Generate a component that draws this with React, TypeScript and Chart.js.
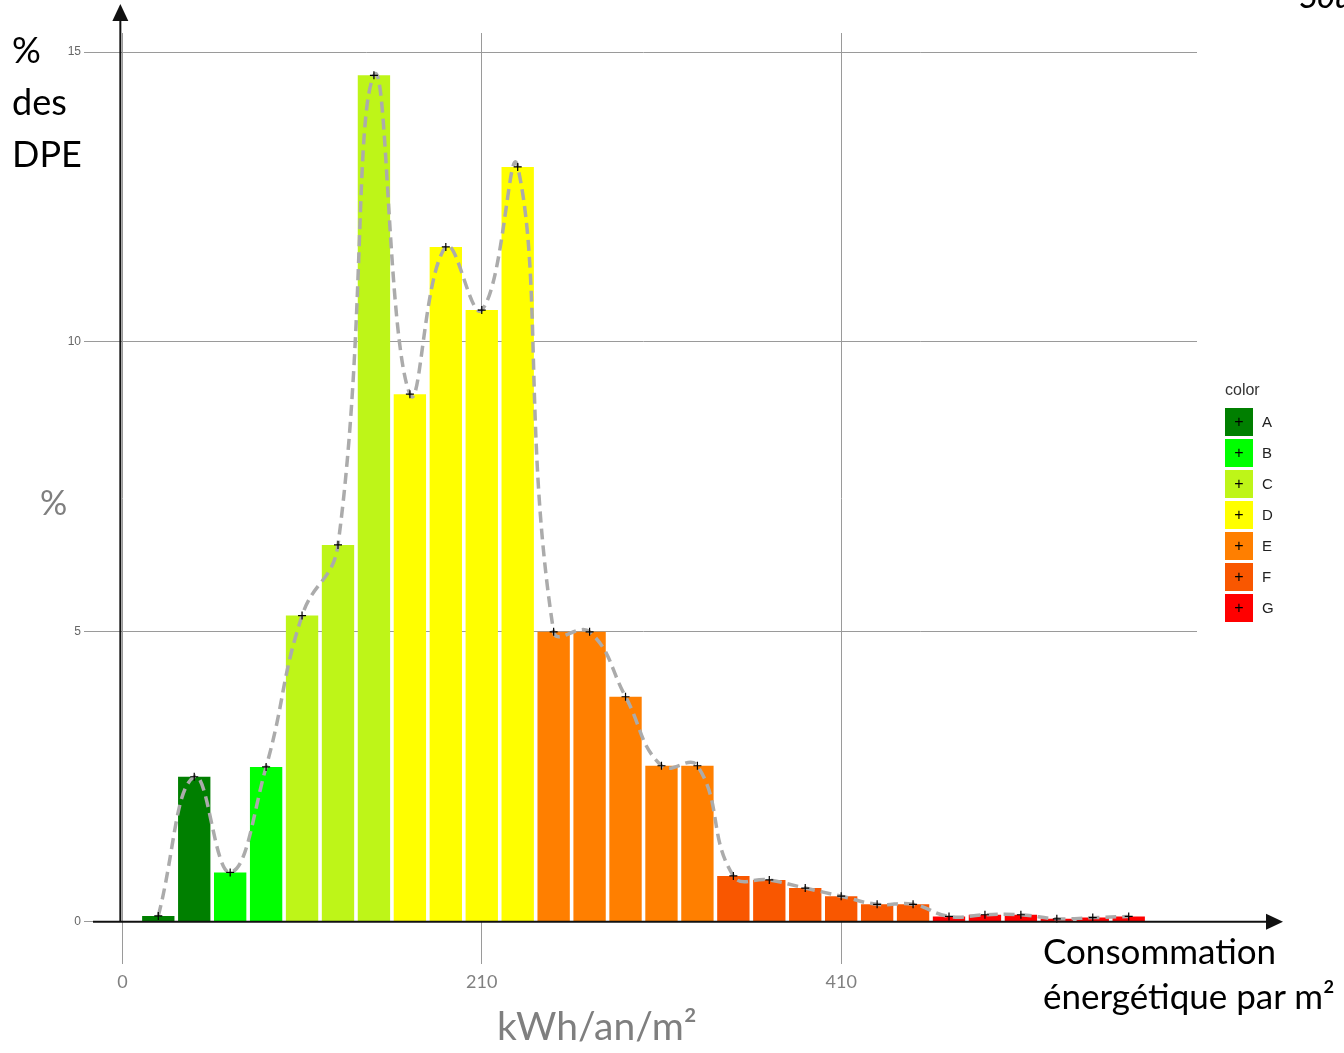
import React, { useEffect, useRef } from "react";
import { Chart, registerables } from "chart.js";

Chart.register(...registerables);

// ---- data ----
const consumption = [30, 50, 70, 90, 110, 130, 150, 170, 190, 210, 230, 250, 270, 290, 310, 330, 350, 370, 390, 410, 430, 450, 470, 490, 510, 530, 550, 570];
const percent = [0.1, 2.5, 0.85, 2.67, 5.28, 6.5, 14.6, 9.1, 11.64, 10.55, 13.02, 5.0, 5.0, 3.88, 2.69, 2.69, 0.79, 0.72, 0.58, 0.44, 0.3, 0.3, 0.09, 0.12, 0.12, 0.05, 0.07, 0.09];
const dpeClass = ["A", "A", "B", "B", "C", "C", "C", "D", "D", "D", "D", "E", "E", "E", "E", "E", "F", "F", "F", "F", "F", "F", "G", "G", "G", "G", "G", "G"];
const classNames = ["A", "B", "C", "D", "E", "F", "G"];
const classColors = ["#007F00", "#00FF00", "#BEF518", "#FFFF00", "#FF7F00", "#F95700", "#FF0000"];
const yTicks = [0, 5, 10, 15];
const xTicks = [10, 210, 410];
const xTickLabels = ["0", "210", "410"];

const colorOf = (c: string) => classColors[classNames.indexOf(c)];

export default function App() {
  const ref = useRef<HTMLCanvasElement | null>(null);

  useEffect(() => {
    document.body.style.margin = "0";
    const canvas = ref.current!;
    const points = consumption.map((x, i) => ({ x, y: percent[i] }));

    const arrowPlugin = {
      id: "arrows",
      afterDraw(chart: any) {
        const ctx = chart.ctx;
        const xs = chart.scales.x;
        const ys = chart.scales.y;
        const y0 = ys.getPixelForValue(0);
        const xa = xs.getPixelForValue(10) - 2;
        ctx.save();
        ctx.strokeStyle = "#111";
        ctx.fillStyle = "#111";
        ctx.lineWidth = 2;
        // x axis
        ctx.beginPath();
        ctx.moveTo(93, y0);
        ctx.lineTo(1268, y0);
        ctx.stroke();
        ctx.beginPath();
        ctx.moveTo(1283, y0);
        ctx.lineTo(1266, y0 - 8);
        ctx.lineTo(1266, y0 + 8);
        ctx.closePath();
        ctx.fill();
        // y axis
        ctx.beginPath();
        ctx.moveTo(xa, y0);
        ctx.lineTo(xa, 20);
        ctx.stroke();
        ctx.beginPath();
        ctx.moveTo(xa, 4);
        ctx.lineTo(xa - 8, 21);
        ctx.lineTo(xa + 8, 21);
        ctx.closePath();
        ctx.fill();
        ctx.restore();
      },
    };

    const chart = new Chart(canvas, {
      type: "bar",
      data: {
        datasets: [
          {
            type: "line",
            data: points,
            borderColor: "#ABABAB",
            borderWidth: 3.5,
            borderDash: [11, 6],
            tension: 0.45,
            fill: false,
            pointStyle: "cross",
            pointRadius: 4,
            pointBorderColor: "#000",
            pointBorderWidth: 1.2,
            pointBackgroundColor: "#000",
            order: 0,
          } as any,
          {
            type: "bar",
            data: points,
            backgroundColor: dpeClass.map(colorOf),
            borderWidth: 0,
            barPercentage: 0.9,
            categoryPercentage: 1,
            grouped: false,
            order: 1,
          } as any,
        ],
      },
      options: {
        responsive: false,
        animation: false,
        layout: { padding: { left: 0, right: 147, top: 33, bottom: 0 } },
        plugins: { legend: { display: false }, tooltip: { enabled: false } },
        scales: {
          x: {
            type: "linear",
            min: -8,
            max: 608,
            offset: false,
            afterFit: (s: any) => { s.height = 89; },
            afterBuildTicks: (s: any) => { s.ticks = xTicks.map((v) => ({ value: v })); },
            grid: { color: "#9A9A9A", lineWidth: 1, drawTicks: false, offset: false },
            border: { display: false },
            ticks: {
              padding: 7,
              color: "#808080",
              font: { family: "Lato", size: 18 },
              callback: (v: any) => xTickLabels[xTicks.indexOf(Number(v))] ?? "",
              maxRotation: 0,
            },
          },
          y: {
            type: "linear",
            min: -0.73,
            max: 15.33,
            afterFit: (s: any) => { s.width = 90; },
            afterBuildTicks: (s: any) => { s.ticks = yTicks.map((v) => ({ value: v })); },
            grid: { color: "#9A9A9A", lineWidth: 1, tickLength: 6 },
            border: { display: false },
            ticks: {
              padding: 3,
              color: "#666",
              font: { family: "Liberation Sans", size: 12 },
            },
          },
        },
      },
      plugins: [arrowPlugin],
    });
    return () => chart.destroy();
  }, []);

  const big: React.CSSProperties = { position: "absolute", fontFamily: "Lato", whiteSpace: "nowrap" };

  return (
    <div style={{ position: "fixed", left: 0, top: 0, width: 1344, height: 1053, overflow: "hidden", background: "#fff" }}>
      <canvas ref={ref} width={1344} height={1053} style={{ position: "absolute", left: 0, top: 0 }} />
      <div style={{ ...big, left: 12, top: 23, fontSize: 36, lineHeight: "52px", color: "#000" }}>
        %<br />des<br />DPE
      </div>
      <div style={{ ...big, left: 40, top: 482, fontSize: 34, lineHeight: "40px", color: "#7F7F7F" }}>%</div>
      <div style={{ ...big, left: 497, top: 1003, fontSize: 39, lineHeight: "44px", color: "#7F7F7F" }}>kWh/an/m²</div>
      <div style={{ ...big, left: 1043, top: 928, fontSize: 35, lineHeight: "45px", color: "#000" }}>
        Consommation<br />énergétique par m²
      </div>
      <div style={{ ...big, left: 1300, top: -25, fontSize: 34, lineHeight: "40px", fontStyle: "italic", color: "#000" }}>Sou</div>
      <div style={{ position: "absolute", left: 1225, top: 380, fontFamily: "Liberation Sans", fontSize: 16, lineHeight: "20px", color: "#333" }}>color</div>
      {classNames.map((c, i) => (
        <div key={c}>
          <div
            style={{
              position: "absolute",
              left: 1225,
              top: 408 + i * 31,
              width: 28,
              height: 28,
              background: classColors[i],
              color: "#000",
              fontFamily: "Liberation Sans",
              fontSize: 16,
              lineHeight: "28px",
              textAlign: "center",
            }}
          >
            +
          </div>
          <div
            style={{
              position: "absolute",
              left: 1262,
              top: 413 + i * 31,
              fontFamily: "Liberation Sans",
              fontSize: 15,
              lineHeight: "17px",
              color: "#222",
            }}
          >
            {c}
          </div>
        </div>
      ))}
    </div>
  );
}
